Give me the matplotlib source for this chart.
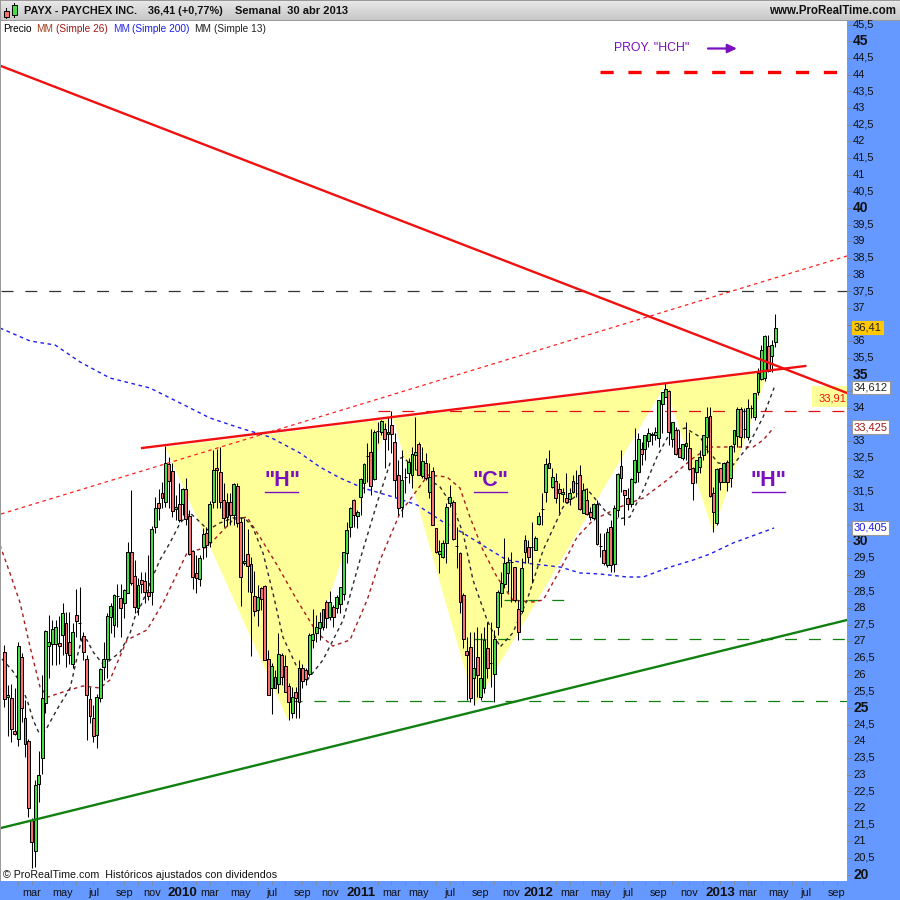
import numpy as np
import pandas as pd
import matplotlib
matplotlib.use("Agg")
import matplotlib.pyplot as plt
from matplotlib.patches import Rectangle, Polygon

plt.rcParams['font.family'] = ['Liberation Sans', 'DejaVu Sans']
plt.rcParams['lines.scale_dashes'] = False

# ---------- weekly OHLC ----------
opens = [26.68,25.33,25.30,24.31,24.07,26.53,24.70,24.01,21.64,20.71,
 22.72,23.50,25.15,26.86,26.92,26.92,26.95,27.19,27.55,26.98,
 26.32,27.79,27.55,27.16,26.47,25.27,24.70,24.19,25.30,26.23,
 26.47,27.73,27.49,28.36,28.30,28.15,28.45,29.68,28.96,28.00,
 28.84,28.81,28.48,28.48,30.43,31.15,31.45,31.18,32.32,32.11,
 30.97,31.12,31.12,31.57,30.76,29.71,29.05,28.87,29.83,30.25,
 29.98,31.18,32.20,32.08,31.24,30.73,31.18,30.79,31.66,30.58,
 29.35,29.62,29.32,28.36,27.94,28.60,28.66,26.47,25.60,25.93,
 25.72,26.59,26.26,25.66,24.85,25.48,25.18,26.20,26.14,26.02,
 27.04,27.25,27.40,27.43,28.18,27.73,28.03,28.00,28.12,28.42,
 29.65,30.43,31.24,30.76,31.33,31.75,32.56,32.68,31.87,33.31,
 33.28,33.37,33.22,33.49,32.98,31.99,31.03,31.93,32.05,31.99,
 32.59,32.92,31.96,32.35,31.48,32.11,30.40,29.62,29.53,29.95,
 31.15,31.18,29.86,29.65,28.39,26.71,26.83,25.90,26.53,25.33,
 25.60,26.80,26.35,26.02,27.43,28.45,28.72,29.05,29.38,29.23,
 27.97,27.91,29.68,29.83,29.83,29.74,30.52,30.97,31.48,32.35,
 31.63,31.81,31.57,31.42,31.30,31.27,31.48,31.75,31.99,30.85,
 31.24,30.88,30.70,31.12,29.86,29.74,29.29,30.43,29.32,30.94,
 31.90,31.54,31.30,31.12,31.78,32.08,32.77,32.77,33.01,33.19,
 33.19,33.10,34.12,34.33,34.51,33.07,33.34,32.80,32.50,32.86,
 32.80,32.20,32.08,32.23,32.59,33.13,33.76,31.45,30.55,32.20,
 31.78,32.38,31.90,32.92,33.16,33.97,33.37,33.13,34.00,33.73,
 34.48,34.87,34.90,35.86,35.56,35.98]
closes = [25.27,25.39,24.37,24.22,26.86,25.00,23.92,22.00,20.98,22.69,
 22.99,25.30,27.31,26.98,27.37,27.43,26.86,27.85,26.65,26.59,
 27.28,27.61,27.55,26.68,25.39,24.76,24.16,25.33,26.17,26.47,
 27.76,28.06,28.39,28.36,28.00,28.54,29.68,28.75,28.03,28.69,
 28.72,28.48,28.36,30.37,31.00,31.00,31.30,32.35,31.81,30.91,
 31.03,30.64,31.57,30.67,29.62,28.93,28.90,29.50,30.22,29.89,
 31.12,32.14,32.14,31.18,30.70,31.18,30.79,31.72,30.55,28.93,
 29.41,29.26,28.48,27.91,28.33,28.27,26.44,25.39,26.26,25.60,
 26.62,25.93,25.48,25.18,25.33,25.30,26.20,25.81,25.87,27.19,
 27.22,27.43,27.58,27.97,27.70,28.18,27.73,28.33,28.63,29.68,
 30.34,31.00,30.79,30.88,31.87,32.32,32.56,31.66,33.28,33.31,
 33.61,33.07,33.28,33.22,31.84,31.00,31.84,31.93,32.38,32.62,
 32.68,31.99,32.41,31.90,31.93,30.49,29.68,29.71,29.95,31.03,
 31.33,30.07,29.86,28.18,27.07,26.59,25.30,26.20,25.99,25.90,
 27.04,26.20,26.35,27.07,28.48,28.75,29.35,29.38,29.38,28.24,
 27.28,29.20,30.04,29.53,29.83,30.10,30.76,30.97,32.32,32.20,
 31.93,31.30,31.45,31.48,31.18,31.45,31.81,31.75,30.97,31.54,
 30.82,30.73,31.12,29.92,29.86,29.35,30.28,29.29,31.00,32.02,
 32.26,31.39,31.12,31.87,32.44,33.07,32.62,33.19,33.25,33.22,
 33.28,34.24,34.48,34.57,33.28,33.58,32.62,32.53,32.92,32.95,
 32.17,31.75,32.44,32.53,33.19,33.73,31.36,30.88,32.17,31.78,
 32.35,31.78,32.86,33.34,33.97,33.13,33.37,34.00,34.00,34.45,
 35.05,35.74,36.16,35.11,35.89,36.41]
highs = [26.89,25.69,25.72,25.60,26.98,26.65,25.24,24.07,21.70,22.84,
 23.71,25.99,27.34,27.79,27.64,27.64,27.76,28.15,27.88,27.88,
 27.55,28.57,28.63,27.28,26.59,25.63,25.09,25.42,26.20,26.98,
 27.85,28.15,28.42,28.72,28.72,28.57,29.98,31.54,29.44,28.90,
 29.08,29.08,29.59,30.46,31.33,31.57,31.78,32.86,32.53,32.35,
 31.39,31.75,31.60,31.90,30.94,29.74,29.59,29.59,30.40,30.43,
 31.21,32.74,32.77,32.83,31.75,31.45,31.45,31.75,31.75,30.73,
 30.70,30.37,29.53,29.11,28.69,28.63,28.69,26.74,26.35,26.14,
 27.25,26.65,26.59,25.75,25.63,25.63,26.44,26.32,26.20,27.25,
 27.97,27.79,27.88,27.97,28.24,28.51,28.09,28.39,28.63,29.68,
 30.58,31.03,31.27,30.94,31.90,32.35,32.95,33.37,33.34,33.58,
 33.64,33.55,33.73,33.91,33.25,32.44,32.74,32.20,32.50,32.83,
 33.73,32.98,32.83,32.65,32.35,32.23,30.40,30.04,30.04,31.15,
 31.69,31.24,30.43,29.68,28.45,27.13,27.28,27.28,27.43,27.25,
 27.43,27.58,27.58,27.34,28.54,29.08,30.10,29.53,29.68,29.23,
 28.24,29.50,30.19,30.04,30.58,30.16,30.88,31.45,32.50,32.74,
 32.20,32.05,31.75,31.60,32.05,31.60,31.99,32.14,32.29,31.75,
 31.60,31.03,31.15,31.24,30.25,30.25,30.40,30.64,31.09,32.05,
 32.74,31.54,31.60,31.90,33.40,33.25,32.98,33.19,33.40,33.28,
 33.43,34.24,34.48,34.75,34.54,33.58,33.43,33.34,32.92,33.58,
 33.28,32.23,32.44,32.74,33.19,34.03,34.03,31.63,32.20,32.20,
 32.38,32.44,32.89,33.34,34.03,34.03,34.00,34.27,34.09,34.45,
 35.20,35.89,36.19,36.19,36.04,36.82]
lows = [25.03,24.16,23.98,24.19,23.86,24.58,23.53,21.73,20.20,20.23,
 22.18,23.02,24.85,25.90,26.29,26.29,26.32,26.59,26.23,26.32,
 26.20,27.13,27.04,26.44,24.04,24.55,23.98,23.80,25.18,25.84,
 25.90,27.25,27.13,27.43,27.13,27.70,28.45,28.69,27.85,27.79,
 28.45,28.15,28.24,28.09,30.25,30.64,31.00,31.03,31.00,30.73,
 30.64,30.58,30.79,30.49,29.59,28.57,28.45,28.66,29.47,29.53,
 29.83,31.00,31.00,31.00,30.43,30.46,30.49,30.49,30.43,28.06,
 29.29,28.48,26.56,27.76,27.46,27.94,26.44,25.39,24.82,25.60,
 25.45,25.69,25.48,24.64,24.70,24.70,24.70,25.60,25.69,25.96,
 26.80,26.98,27.04,27.34,27.40,27.64,27.43,27.85,27.85,28.24,
 29.35,30.13,30.43,30.40,30.79,31.45,31.78,31.39,31.84,32.95,
 33.19,32.20,32.74,32.65,31.33,30.79,30.73,31.45,31.75,31.60,
 32.14,31.99,31.90,31.84,31.30,30.49,29.65,29.05,29.50,29.35,
 31.03,30.04,29.20,27.85,26.80,25.24,25.18,25.09,25.33,25.24,
 25.45,25.90,25.63,25.18,27.19,28.03,28.63,28.48,28.18,28.18,
 27.04,27.85,29.35,29.35,28.75,29.74,30.49,30.49,31.18,32.20,
 31.60,31.15,30.85,31.18,31.15,31.09,31.45,31.33,30.94,30.85,
 30.79,30.64,30.64,29.89,29.53,29.29,29.23,29.08,29.08,30.73,
 31.48,30.49,30.94,31.03,31.75,31.78,32.29,32.44,32.83,32.89,
 33.04,32.83,33.25,34.33,32.89,32.83,32.59,32.53,32.44,32.44,
 32.14,31.24,31.75,32.05,32.44,32.65,31.33,30.28,30.49,31.54,
 31.78,31.51,31.63,32.68,32.83,32.83,33.10,33.04,33.70,33.64,
 34.39,34.84,34.81,35.08,35.08,35.83]

# ---------- moving averages (week index, price) ----------
sma13_w = [-0.7,2.2,4.6,6.9,8.4,10.1,11.9,15.6,19.2,21.5,22.7,24.1,25.9,28.5,30.2,33.8,36.7,38.1,40.2,42.5,45.4,48.3,51.3,54.2,57.1,59.4,62.9,66.7,70.2,72.6,75.5,78.4,81.3,85.4,88.4,93,98.9,103.8,108.8,112.6,116.4,119.3,123.4,127.2,131,133.9,136.8,140.9,144.7,148.4,152.6,157.3,163.1,168.1,170.1,173,175.9,179.2,182.6,186.5,190.5,194.3,198.7,203.1,206,208.4,212.7,216.8,221.5,224.7]
sma13_p = [26.47,26.14,25.78,25.15,24.64,24.25,24.31,25.00,25.60,26.65,27.10,27.04,26.68,26.35,26.38,26.68,27.25,27.73,28.15,28.75,29.44,29.95,30.55,30.85,30.58,30.34,30.55,30.70,30.70,30.40,29.65,28.45,27.13,26.23,25.84,26.44,27.64,29.44,31.15,32.35,32.53,32.23,31.90,31.63,31.03,30.25,28.84,27.64,26.83,27.25,28.24,29.74,31.03,31.48,31.57,31.21,30.85,30.67,30.73,31.54,32.53,33.25,33.40,33.13,32.65,32.35,32.29,32.80,33.73,34.61]
sma26_w = [-1.3,1.6,4.6,7.5,10.4,12.7,17.1,22.9,27.9,30.8,35.8,41.6,46.3,53.3,59.2,66.7,70.8,74.6,79.6,85.4,91.3,95.9,100.9,105.9,109.7,115.5,120.5,123.7,129.2,133,135.9,139.7,143.8,148.4,154.3,157.3,162.2,167.2,171.9,179.7,186.5,193.5,201.1,206,212.7,218.6,221.5,224.7]
sma26_p = [29.89,29.05,28.15,26.83,25.63,25.33,25.48,25.66,25.60,25.84,27.04,27.34,28.15,29.65,29.83,30.64,30.73,30.13,29.29,28.24,27.25,26.86,27.04,28.24,29.44,30.85,31.54,31.99,31.93,31.60,30.73,29.74,28.93,28.24,28.18,28.24,29.14,30.13,30.64,31.03,31.30,31.84,32.50,32.83,32.83,32.83,33.04,33.42]
sma200_w = [-1.3,7.5,14.8,22.1,30.8,42.5,51.3,60,68.8,77.5,86.3,92.1,98,104.7,113.5,120.5,128.1,133.9,140.9,146.7,154.3,162.2,168.1,173.9,181.8,186.5,193.5,201.1,206,212.7,224.7]
sma200_p = [36.40,36.01,35.89,35.38,34.90,34.60,34.15,33.70,33.40,33.13,32.65,32.23,31.90,31.60,31.33,31.09,30.58,30.25,29.80,29.44,29.32,29.23,29.05,29.02,28.93,28.93,29.20,29.44,29.62,29.95,30.40]

# ---------- drawn objects (week index, price) ----------
fall_line_w, fall_line_p = [-1, 246], [44.26, 34.45]
neck_line_w, neck_line_p = [40.2, 233.8], [32.80, 35.26]
channel_w, channel_p = [-1, 246], [30.82, 38.56]
support_w, support_p = [-1, 246], [21.40, 27.64]
hch_w = [46.9, 222.9, 206.9, 192.9, 137.4, 112.9, 82.8]
hch_p = [32.83, 35.08, 30.28, 34.69, 25.09, 33.88, 24.64]
proj_level, proj_from, proj_to = 44.08, 174, 243.5
levels = [37.51, 33.91, 25.21, 27.07, 28.24]
level_from = [-1, 109, 83.5, 137, 146]
level_to = [246, 246, 246, 246, 165.7]
level_cols = ['#333333', '#E01010', '#108010', '#108010', '#108010']
tag_w, tag_p = (235.7, 246), (34.03, 34.66)
last_close, ma26_last, ma200_last, ma13_last, trend_last = 36.41, 33.425, 30.405, 34.612, 33.91
hidden_ticks = [36.5, 34.5, 33.5, 30.5]

# ---------- week dates ----------
dates = pd.date_range('2009-01-05', periods=250, freq='7D')
month_names = {3:'mar',5:'may',7:'jul',9:'sep',11:'nov'}

W = np.arange(len(opens))
XL = (-0.99, 245.99)
YL = (19.81, 45.61)

fig = plt.figure(figsize=(9, 9), dpi=100, facecolor='white')
ax = fig.add_axes([1/900, 19/900, 846/900, 860/900])
ax.set_xlim(*XL); ax.set_ylim(*YL)
ax.set_xticks([]); ax.set_yticks([])
for s in ax.spines.values():
    s.set_visible(False)

ax.add_patch(Polygon(list(zip(hch_w, hch_p)), closed=True, fc='#FFFF99', ec='none', zorder=1))
ax.add_patch(Rectangle((tag_w[0], tag_p[0]), tag_w[1]-tag_w[0], tag_p[1]-tag_p[0], fc='#FFFF99', ec='none', zorder=1))

# levels
for lv, a, b, c in zip(levels, level_from, level_to, level_cols):
    ax.plot([a, b], [lv, lv], color=c, lw=0.9, ls=(0, (8.6, 8.6)), zorder=2)
ax.plot([proj_from, proj_to], [proj_level]*2, color='#FF0000', lw=2.4, ls=(0, (9.5, 10.6)), zorder=2, dash_capstyle='butt')

# moving averages
ax.plot(sma26_w, sma26_p, color='#A81C1C', lw=1.0, ls=(0, (2.6, 2.6)), zorder=3)
ax.plot(sma200_w, sma200_p, color='#1C1CF0', lw=1.0, ls=(0, (2.6, 2.6)), zorder=3)
ax.plot(sma13_w, sma13_p, color='#2A2A2A', lw=1.0, ls=(0, (2.6, 2.6)), zorder=3)

# candles
for w, o, h, l, c in zip(W, opens, highs, lows, closes):
    ax.plot([w, w], [l, h], color='black', lw=0.75, zorder=4, solid_capstyle='butt')
    col = '#44DD44' if c >= o else '#F87070'
    ax.add_patch(Rectangle((w-0.42, min(o, c)), 0.84, abs(c-o), fc=col, ec='black', lw=0.72, zorder=5, snap=True))

# trend lines
ax.plot(channel_w, channel_p, color='#FF2020', lw=0.9, ls=(0, (2.6, 2.6)), zorder=6)
ax.plot(fall_line_w, fall_line_p, color='#F01010', lw=1.7, zorder=6)
ax.plot(neck_line_w, neck_line_p, color='#F01010', lw=1.7, zorder=6)
ax.plot(support_w, support_p, color='#108010', lw=1.7, zorder=6)

PURPLE = '#7A10C0'

# ---------- overlay in pixels ----------
ov = fig.add_axes([0, 0, 1, 1], facecolor='none')
ov.set_xlim(0, 900); ov.set_ylim(900, 0); ov.axis('off')

# header
grad = np.linspace(0.91, 0.78, 20).reshape(-1, 1)
ov.imshow(grad, extent=(0, 900, 20, 0), aspect='auto', cmap='gray', vmin=0, vmax=1, zorder=1)
ov.set_xlim(0, 900); ov.set_ylim(900, 0)
ov.add_patch(Rectangle((0, 0), 900, 1.2, fc='#999999', ec='none', zorder=2))
ov.add_patch(Rectangle((0, 20), 900, 1.2, fc='#999999', ec='none', zorder=2))
ov.add_patch(Rectangle((0, 0), 1.2, 900, fc='#999999', ec='none', zorder=2))
ov.plot([6, 6], [8, 18], color='black', lw=0.7, zorder=3)
ov.plot([14, 14], [3, 17], color='black', lw=0.7, zorder=3)
ov.add_patch(Rectangle((3.5, 10.5), 5, 6, fc='#F87070', ec='black', lw=0.7, zorder=4))
ov.add_patch(Rectangle((11.5, 4.5), 5, 10, fc='#44DD44', ec='black', lw=0.7, zorder=4))
hk = dict(fontweight='bold', va='center', color='#111111', zorder=5)
ov.text(23.5, 10.5, 'PAYX - PAYCHEX INC.', fontsize=7.85, **hk)
ov.text(148, 10.5, '36,41 (+0,77%)', fontsize=7.85, **hk)
ov.text(235, 10.5, 'Semanal  30 abr 2013', fontsize=8, **hk)
ov.text(896, 10.5, 'www.ProRealTime.com', ha='right', fontsize=8.3, **hk)

# legend line
for xp, t, c in [(3, 'Precio', '#000000'), (36.5, 'MM', '#A04020'), (55.5, '(Simple 26)', '#A01818'),
                 (113, 'MM', '#3030E0'), (131.5, '(Simple 200)', '#1C1CE0'),
                 (194, 'MM', '#222222'), (213.5, '(Simple 13)', '#222222')]:
    ov.text(xp, 28.5, t, fontsize=7.3, color=c, va='center', zorder=5)

# pattern labels
for xp, t, xa, xb in [(282, '"H"', 265, 298), (490, '"C"', 474, 507), (768.5, '"H"', 752, 785)]:
    ov.text(xp, 481, t, fontsize=15.5, fontweight='bold', color=PURPLE, ha='center', va='center', zorder=7)
    ov.plot([xa, xb], [491.5, 491.5], color=PURPLE, lw=1.0, zorder=7)
ov.text(614, 48, 'PROY. "HCH"', fontsize=8.8, color=PURPLE, va='center', zorder=7)
ov.annotate('', xy=(737, 48.5), xytext=(708, 48.5),
            arrowprops=dict(arrowstyle='-|>,head_width=0.26,head_length=0.55', color=PURPLE, lw=1.6, shrinkA=0, shrinkB=0), zorder=7)

ov.text(3, 875, '© ProRealTime.com  Históricos ajustados con dividendos', fontsize=7.65, color='#111111', va='center', zorder=7)

# right price axis
BLUE = '#6699FF'
rax = fig.add_axes([847/900, 19/900, 53/900, 860/900], facecolor=BLUE)
rax.set_xlim(0, 53); rax.set_ylim(*YL)
rax.set_xticks([])
rax.set_yticks([])
for s in rax.spines.values():
    s.set_visible(False)
rax.add_patch(Rectangle((0, YL[0]), 1.2, YL[1]-YL[0], fc='#999999', ec='none'))
for v in np.arange(20, 45.6, 0.5):
    bold = v % 5 == 0
    rax.plot([0, 4], [v, v], color='#888888', lw=0.7)
    if v in hidden_ticks:
        continue
    lab = f'{int(v)}' if v == int(v) else f'{v:.1f}'.replace('.', ',')
    rax.text(6, v, lab, fontsize=10 if bold else 8, fontweight='bold' if bold else 'normal',
             va='center', color='#111111')

def value_box(v, txt, fc, tc, ec):
    rax.text(6.6, v, txt, fontsize=8, va='center', color=tc, zorder=6,
             bbox=dict(boxstyle='square,pad=0.16', fc=fc, ec=ec, lw=0.8))

value_box(last_close, '36,41', '#FFC800', '#222222', '#FFC800')
value_box(ma13_last, '34,612', 'white', '#222222', '#999999')
value_box(ma26_last, '33,425', 'white', '#A01818', '#999999')
value_box(ma200_last, '30,405', 'white', '#1C1CE0', '#999999')

ov.text(846, 398.5, f'{trend_last:.2f}'.replace('.', ','), fontsize=8, color='#F01010', ha='right', va='center', zorder=8)

# bottom time axis
bax = fig.add_axes([0, 0, 1, 19/900], facecolor=BLUE)
bax.set_ylim(19, 0)
bax.set_xticks([]); bax.set_yticks([])
for s in bax.spines.values():
    s.set_visible(False)
x2w = 846/(XL[1]-XL[0])
bax.set_xlim(XL[0]-1/x2w, XL[0]+899/x2w)
seen = set()
for i, d in enumerate(dates):
    key = (d.year, d.month)
    if key in seen:
        continue
    seen.add(key)
    if i == 0 or i > XL[1]:
        continue
    bax.plot([i, i], [0, 2.5], color='#888888', lw=0.6)
    if d.month == 1:
        bax.text(i, 11.5, str(d.year), fontsize=9.6, fontweight='bold', ha='center', va='center', color='#111111')
    elif d.month in month_names:
        bax.text(i, 11.5, month_names[d.month], fontsize=7.8, ha='center', va='center', color='#111111')

fig.savefig('out.png', dpi=100)
